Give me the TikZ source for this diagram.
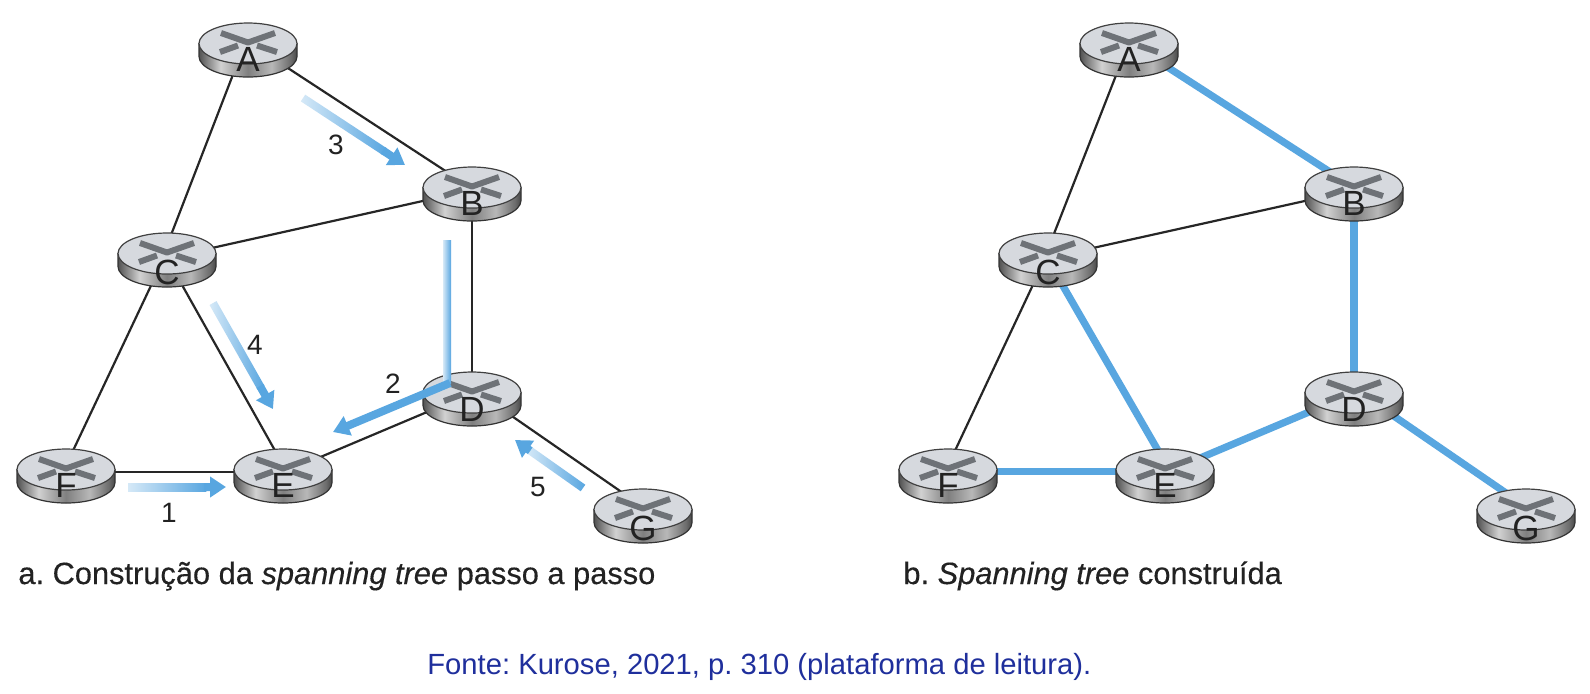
\documentclass[tikz,border=0pt]{standalone}
\usepackage{fontspec}
\setmainfont{Liberation Sans}
\frenchspacing
\usetikzlibrary{shapes.geometric,arrows.meta,calc,backgrounds}
\definecolor{treeblue}{HTML}{58A6E0}
\definecolor{inktext}{HTML}{222222}
\definecolor{sourceblue}{HTML}{1F2F9C}
\definecolor{topface}{HTML}{D6D9DE}
\definecolor{xmark}{HTML}{6E7277}
\pgfdeclarehorizontalshading{routerbody}{100bp}{
  color(0bp)=(black!68);
  color(25bp)=(black!68);
  color(36bp)=(black!18);
  color(50bp)=(black!50);
  color(62bp)=(black!28);
  color(72bp)=(black!58);
  color(75bp)=(black!72);
  color(100bp)=(black!72)}
\tikzset{
  routernode/.style={ellipse,minimum width=50pt,minimum height=27pt,inner sep=0pt,outer sep=0pt,
    text height=0pt,text depth=0pt,text=inktext,font=\fontsize{17.5}{17.5}\selectfont},
  routeredge/.style={draw=black!85,line width=1.1pt,shorten <=-5pt,shorten >=-5pt},
  treeedge/.style={draw=treeblue,line width=3.6pt,shorten <=-5pt,shorten >=-5pt},
  steplabel/.style={text=inktext,inner sep=0pt,font=\fontsize{14}{14}\selectfont},
  captiontext/.style={text=inktext,inner sep=0pt,anchor=base west,font=\fontsize{15.4}{15.4}\selectfont\addfontfeature{FakeBold=0.3}},
  sourcetext/.style={text=sourceblue,inner sep=0pt,anchor=base west,font=\fontsize{14.6}{14.6}\selectfont},
  solidstep/.style={draw=treeblue,line width=4pt,-{Triangle[length=8pt,width=10pt]}},
  shaftnode/.style={inner sep=0pt,outer sep=0pt,minimum height=4pt,
    left color=treeblue!25!white,middle color=treeblue!72!white,right color=treeblue}
}
\newcommand{\routerdraw}[5]{%
  \begin{scope}[shift={(#3,#4)}]
    \path[shading=routerbody,draw=black!80,line width=0.6pt]
      (-49,-6.5) -- (-49,6.5) .. controls (-49,17.8) and (-27,27) .. (0,27)
      .. controls (27,27) and (49,17.8) .. (49,6.5) -- (49,-6.5) -- cycle;
    \draw[fill=topface,draw=black!75,line width=0.6pt] (0,-6.5) ellipse [x radius=49,y radius=20.5];
    \draw[xmark,line width=3pt,line join=round] (-27,-17) -- (0,-7.5) -- (27,-17);
    \draw[xmark,line width=3pt] (-28,2) -- (-10,-4.5);
    \draw[xmark,line width=3pt] (9,-4.5) -- (29,2);
    \node[routernode] (#1) at (0,0) {\raisebox{-#5pt}{#2}};
  \end{scope}}
\newcommand{\fadeshaft}[3]{%
  \path let \p1=($(#3)-(#2)$), \n1={atan2(\y1,\x1)}, \n2={veclen(\x1,\y1)} in
    node[shaftnode,rotate=\n1,minimum width=\n2] (#1) at ($(#2)!0.5!(#3)$) {};}
\newcommand{\fadearrow}[3]{%
  \coordinate (#1m) at ($(#2)!0.8!(#3)$);
  \fadeshaft{#1shaft}{#2}{#1m}
  \draw[solidstep] ($(#1m)!1pt!(#2)$) -- (#3);}
\begin{document}
\begin{tikzpicture}[x=0.5pt,y=-0.5pt]
\useasboundingbox (0,0) rectangle (1590,693);
% left panel routers
\routerdraw{LA}{A}{248}{50}{10.9}
\routerdraw{LB}{B}{472}{194}{10.9}
\routerdraw{LC}{C}{167}{260}{12.2}
\routerdraw{LD}{D}{472}{399}{11.2}
\routerdraw{LE}{E}{283}{476}{10.9}
\routerdraw{LF}{F}{66}{476}{10.9}
\routerdraw{LG}{G}{643}{516}{12.2}
% right panel routers
\routerdraw{RA}{A}{1129}{50}{10.9}
\routerdraw{RB}{B}{1354}{194}{10.9}
\routerdraw{RC}{C}{1048}{260}{12.2}
\routerdraw{RD}{D}{1354}{399}{11.2}
\routerdraw{RE}{E}{1165}{476}{10.9}
\routerdraw{RF}{F}{948}{476}{10.9}
\routerdraw{RG}{G}{1526}{516}{12.2}
\begin{pgfonlayer}{background}
  \fill[white] (0,0) rectangle (1590,693);
  \path[routeredge] (LA.239) -- (LC.80);
  \path[routeredge] (LA.336) -- (LB.139);
  \path[routeredge] (LC.15) -- (LB.188);
  \path[routeredge] (LC.238) -- (LF.74);
  \path[routeredge] (LC.301) -- (LE.108);
  \path[routeredge] (LB.270) -- (LD.90);
  \path[routeredge] (LF.5) -- (LE.175);
  \path[routeredge] (LE.27) -- (LD.196);
  \path[routeredge] (LD.337) -- (LG.132);
  \path[routeredge] (RA.243) -- (RC.77);
  \path[routeredge] (RC.15) -- (RB.188);
  \path[routeredge] (RC.239) -- (RF.74);
  \path[treeedge] (RA.336) -- (RB.138);
  \path[treeedge] (RB.270) -- (RD.90);
  \path[treeedge] (RC.300) -- (RE.106);
  \path[treeedge] (RF.5) -- (RE.175);
  \path[treeedge] (RE.27) -- (RD.196);
  \path[treeedge] (RD.337) -- (RG.132);
\end{pgfonlayer}
% step arrows
\coordinate (s1a) at (128,487); \coordinate (s1b) at (226,487);
\coordinate (s2a) at (447,240); \coordinate (s2m) at (447,383); \coordinate (s2b) at (333,432);
\coordinate (s3a) at (303,98);  \coordinate (s3b) at (405,165);
\coordinate (s4a) at (213,303); \coordinate (s4b) at (273,409);
\coordinate (s5a) at (583,488); \coordinate (s5b) at (515,440);
\fadearrow{sone}{s1a}{s1b}
\fadeshaft{stwoshaft}{s2a}{s2m}
\draw[solidstep] ($(s2m)+(3,0)$) -- (s2b);
\fadearrow{sthree}{s3a}{s3b}
\fadearrow{sfour}{s4a}{s4b}
\fadearrow{sfive}{s5a}{s5b}
% step labels
\node[steplabel] (n1) at (169,513) {1};
\node[steplabel] (n2) at (393,384) {2};
\node[steplabel] (n3) at (336,145) {3};
\node[steplabel] (n4) at (255,345) {4};
\node[steplabel] (n5) at (538,487) {5};
% captions
\node[captiontext] (capa) at (18,584) {a. Construção da \textit{spanning tree} passo a passo};
\node[captiontext] (capb) at (903,584) {b. \textit{Spanning tree} construída};
\node[sourcetext] (src) at (427,674) {Fonte: Kurose, 2021, p. 310 (plataforma de leitura).};
\end{tikzpicture}
\end{document}
